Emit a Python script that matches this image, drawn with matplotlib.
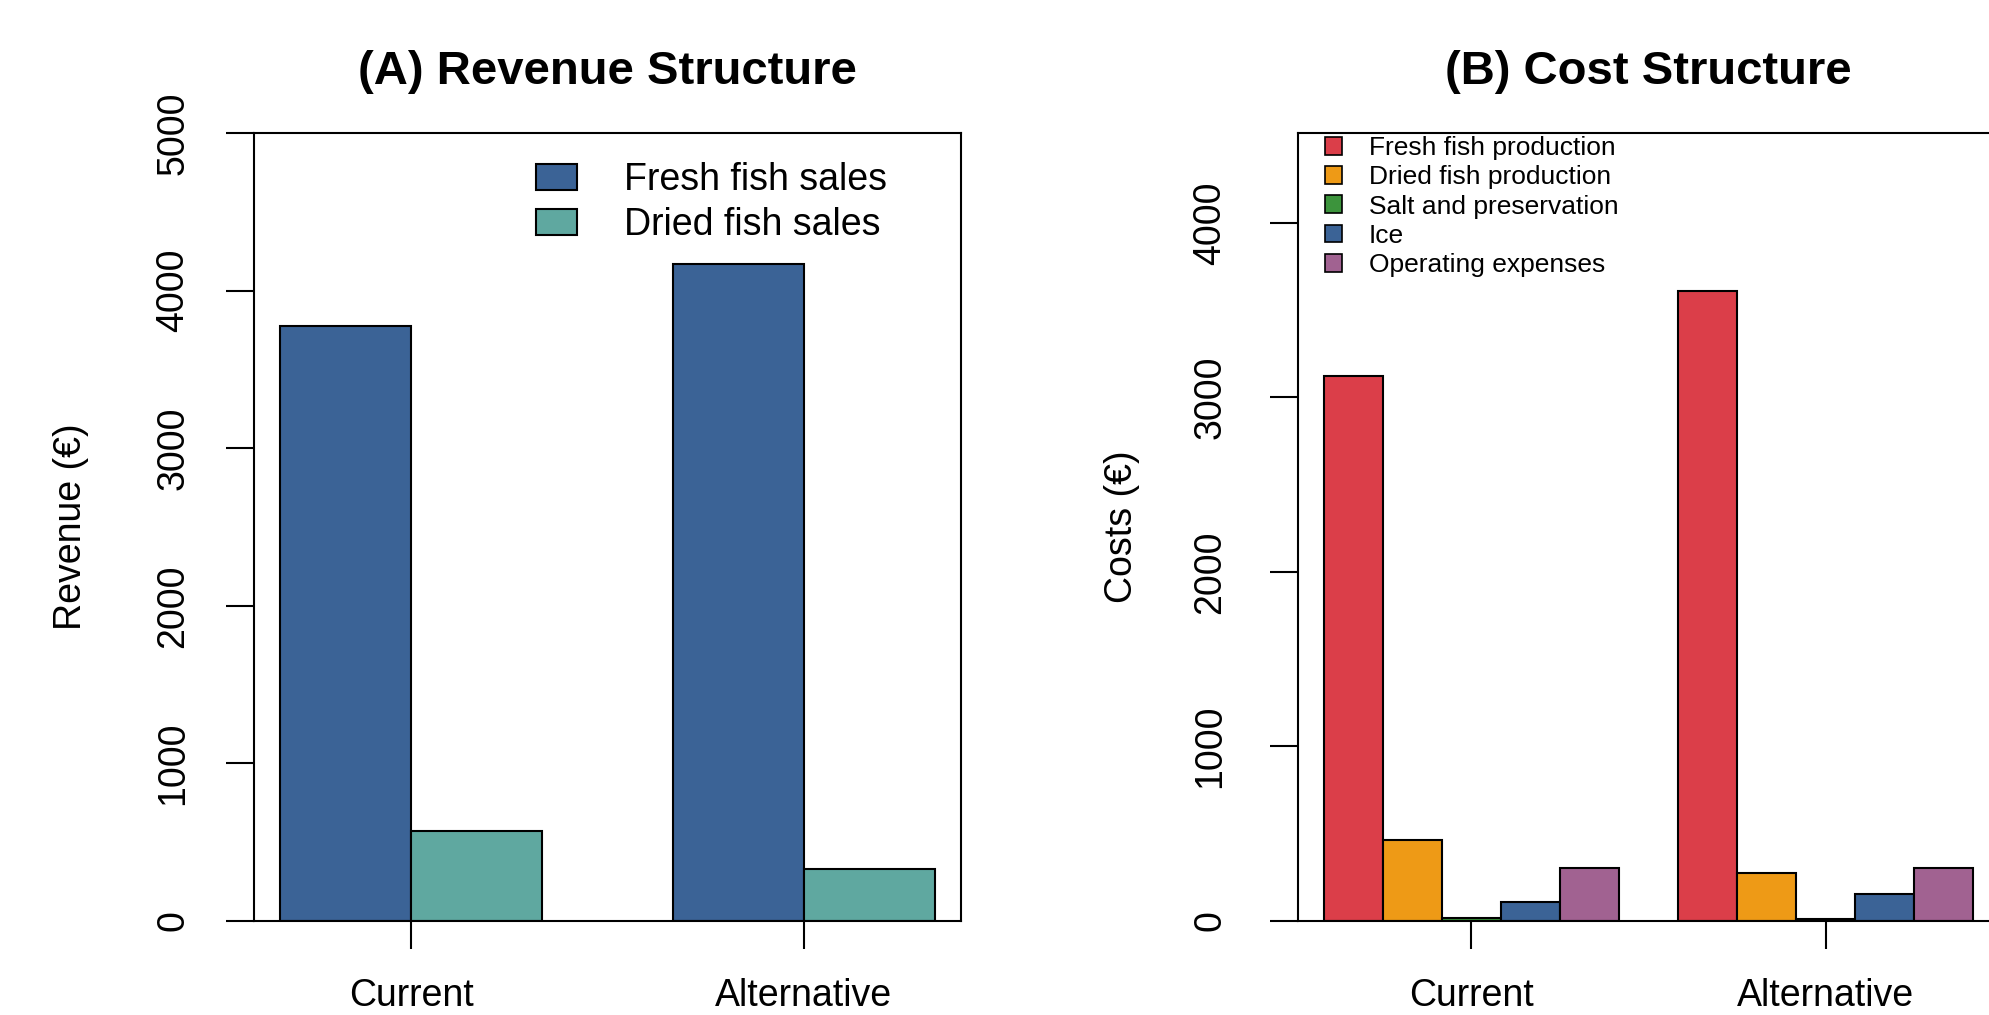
import matplotlib
matplotlib.use("Agg")
import matplotlib.pyplot as plt
from matplotlib.patches import Patch
import numpy as np

plt.rcParams['font.family'] = ['Liberation Sans', 'DejaVu Sans']

scenarios = ["Current", "Alternative"]

revenue_labels = ["Fresh fish sales", "Dried fish sales"]
revenue_fresh = [3775, 4170]
revenue_dried = [573, 332]
revenue_colors = ["#3B6396", "#5FA8A0"]

cost_labels = ["Fresh fish production", "Dried fish production",
               "Salt and preservation", "Ice", "Operating expenses"]
cost_fresh = [3125, 3612]
cost_dried = [464, 275]
cost_salt = [18, 10]
cost_ice = [107, 154]
cost_operating = [305, 303]
cost_colors = ["#DB3E49", "#EE9A16", "#3C943C", "#3B6396", "#A16291"]

W, H = 1990, 1015
fig = plt.figure(figsize=(W / 100, H / 100), dpi=100)

def place(x0, y0, x1, y1):
    return [x0 / W, 1 - y1 / H, (x1 - x0) / W, (y1 - y0) / H]

LW = 1.5
TICK_FS = 27

def style(ax):
    for s in ax.spines.values():
        s.set_linewidth(LW)
    ax.tick_params(axis='both', direction='out', length=20, width=LW,
                   labelsize=TICK_FS)
    ax.tick_params(axis='x', pad=21)
    for lab in ax.get_yticklabels():
        lab.set_rotation(90)
        lab.set_va('center')

def grouped(ax, series, colors, gap=1.0):
    n = len(series)
    ng = len(series[0])
    centers = []
    for g in range(ng):
        start = 1 + g * (n + gap)
        centers.append(start + n / 2)
        for i, s in enumerate(series):
            ax.bar(start + i, s[g], width=1.0, align='edge', color=colors[i],
                   edgecolor='black', linewidth=LW, zorder=2)
    total = ng * n + (ng - 1) * gap
    ext = 0.04 * total
    ax.set_xlim(1 - ext, 1 + total + ext)
    ax.set_xticks(centers)
    ax.set_xticklabels(scenarios)
    return centers

# ---------------- Panel A ----------------
axA = fig.add_axes(place(254, 133, 961, 921))
grouped(axA, [revenue_fresh, revenue_dried], revenue_colors)
axA.set_ylim(0, 5000)
axA.set_yticks([0, 1000, 2000, 3000, 4000, 5000])
style(axA)
axA.tick_params(axis='y', pad=25)
axA.set_ylabel("Revenue (€)", fontsize=TICK_FS, labelpad=48)
axA.set_title("(A) Revenue Structure", fontsize=34, fontweight='bold', pad=35)
hA = [Patch(facecolor=c, edgecolor='black', linewidth=LW) for c in revenue_colors]
axA.legend(hA, revenue_labels, loc='upper left', bbox_to_anchor=(536 / W, 1 - 162 / H),
           bbox_transform=fig.transFigure, frameon=False, fontsize=27,
           handlelength=1.1, handleheight=0.7, handletextpad=1.25,
           labelspacing=0.25, borderpad=0, borderaxespad=0)

# ---------------- Panel B ----------------
axB = fig.add_axes(place(1298, 133, 1999, 921))
grouped(axB, [cost_fresh, cost_dried, cost_salt, cost_ice, cost_operating], cost_colors)
ymaxB = max(cost_fresh) * 1.25
axB.set_ylim(0, ymaxB)
axB.set_yticks([0, 1000, 2000, 3000, 4000])
style(axB)
axB.tick_params(axis='y', pad=30)
axB.set_ylabel("Costs (€)", fontsize=TICK_FS, labelpad=38)
axB.set_title("(B) Cost Structure", fontsize=34, fontweight='bold', pad=35)
hB = [Patch(facecolor=c, edgecolor='black', linewidth=1.2) for c in cost_colors]
axB.legend(hB, cost_labels, loc='upper left', bbox_to_anchor=(1325 / W, 1 - 136 / H),
           bbox_transform=fig.transFigure, frameon=False, fontsize=19,
           handlelength=0.65, handleheight=0.65, handletextpad=1.0,
           labelspacing=0.2, borderpad=0, borderaxespad=0)

fig.savefig("out.png", dpi=100)
